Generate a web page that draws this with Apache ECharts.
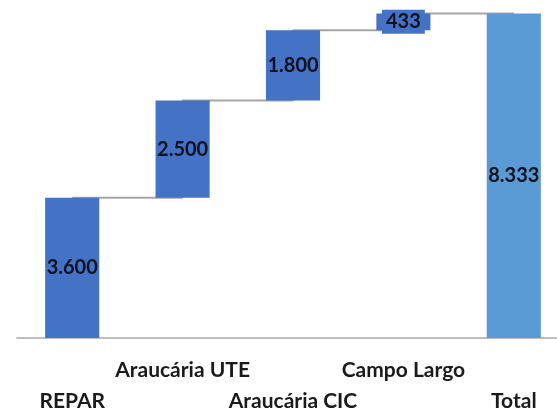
<!DOCTYPE html>
<html>
<head>
<meta charset="utf-8">
<script src="https://cdn.jsdelivr.net/npm/echarts@6/dist/echarts.min.js"></script>
<style>
  html, body { margin: 0; padding: 0; background: #fff; }
  #chart { width: 557px; height: 412px; }
</style>
</head>
<body>
<div id="chart"></div>
<script>
// categorias e valores do waterfall
const categories = ['REPAR', 'Araucária UTE', 'Araucária CIC', 'Campo Largo', 'Total'];
const values = [3600, 2500, 1800, 433, 8333];
const isTotal = [false, false, false, false, true];
const valueLabels = ['3.600', '2.500', '1.800', '433', '8.333'];

// base invisivel e nivel acumulado (para as linhas de ligacao)
const base = [];
const level = [];
let acc = 0;
for (let i = 0; i < values.length; i++) {
  if (isTotal[i]) {
    base.push(0);
    acc = values[i];
  } else {
    base.push(acc);
    acc += values[i];
  }
  level.push(acc);
}

const chart = echarts.init(document.getElementById('chart'));
const font = 'Lato, "Open Sans", sans-serif';

chart.setOption({
  animation: false,
  grid: { left: 17, top: 3, width: 552, bottom: 74, outerBoundsMode: 'none' },
  xAxis: {
    type: 'category',
    data: categories,
    axisLine: { lineStyle: { color: '#bfbfbf', width: 2 } },
    axisTick: { show: false },
    axisLabel: {
      interval: 0,
      margin: 17,
      fontFamily: font,
      fontWeight: 'bold',
      fontSize: 21,
      lineHeight: 31,
      color: '#1a1a1a',
      formatter: function (v, i) {
        return i % 2 === 0 ? '\n' + v : v;
      }
    }
  },
  yAxis: {
    type: 'value',
    min: 0,
    max: 8600,
    show: false,
    splitLine: { show: false }
  },
  series: [
    {
      type: 'line',
      step: 'end',
      data: level,
      symbol: 'none',
      z: 1,
      lineStyle: { color: '#a6a6a6', width: 2 }
    },
    {
      type: 'bar',
      stack: 'w',
      data: base,
      barWidth: '49%',
      itemStyle: { color: 'transparent' },
      z: 2
    },
    {
      type: 'bar',
      stack: 'w',
      z: 3,
      data: values.map(function (v, i) {
        const item = {
          value: v,
          itemStyle: { color: isTotal[i] ? '#5b9bd5' : '#4472c4' }
        };
        if (v < 1000) {
          item.label = {
            backgroundColor: '#4472c4',
            padding: [3, 4, 1, 4]
          };
        }
        return item;
      }),
      label: {
        show: true,
        position: 'inside',
        fontFamily: font,
        fontWeight: 'bold',
        fontSize: 20,
        color: '#10121f',
        formatter: function (p) { return valueLabels[p.dataIndex]; }
      }
    }
  ]
});
</script>
</body>
</html>
